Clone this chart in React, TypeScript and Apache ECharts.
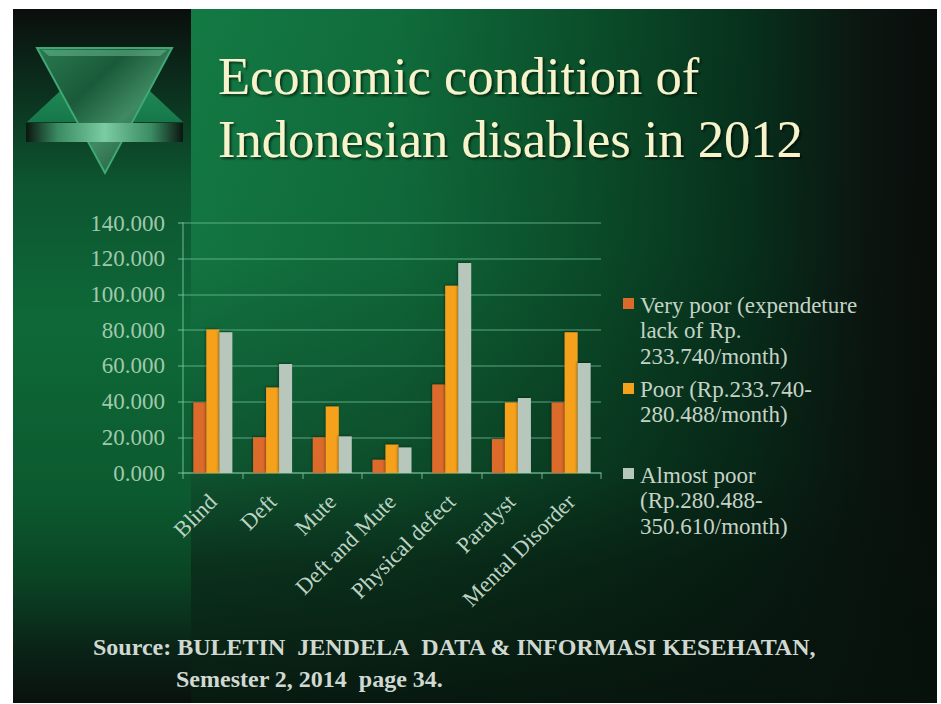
import React, { useEffect, useRef } from "react";
import * as echarts from "echarts";

const categories = ["Blind", "Deft", "Mute", "Deft and Mute", "Physical defect", "Paralyst", "Mental Disorder"];
const veryPoor = [39500, 20000, 20000, 7400, 49500, 19000, 39500];
const poor = [80300, 47900, 37300, 15900, 104900, 39500, 78800];
const almostPoor = [78800, 61000, 20500, 14300, 117600, 42000, 61600];
const seriesNames = [
  "Very poor (expendeture\nlack of Rp.\n233.740/month)",
  "Poor (Rp.233.740-\n280.488/month)",
  "Almost poor\n(Rp.280.488-\n350.610/month)",
];
const yTickLabels = ["0.000", "20.000", "40.000", "60.000", "80.000", "100.000", "120.000", "140.000"];
const titleLines = ["Economic condition of", "Indonesian disables in 2012"];
const sourceLines = [
  "Source: BULETIN\u00a0\u00a0JENDELA\u00a0\u00a0DATA & INFORMASI KESEHATAN,",
  "Semester 2, 2014\u00a0\u00a0page 34.",
];

const SERIF = "Liberation Serif, Times New Roman, serif";
const colors = ["#dc6a2b", "#f6a11c", "#b8c7bc"];

export default function App() {
  const ref = useRef<HTMLDivElement>(null);
  useEffect(() => {
    if (!ref.current) return;
    const chart = echarts.init(ref.current, null, { renderer: "svg" });
    const seriesData = [veryPoor, poor, almostPoor];
    const legendFirstLine = [305, 389, 475];
    const markerTop = [298, 383, 468];

    const legendGraphics: any[] = [];
    seriesNames.forEach((name, i) => {
      legendGraphics.push({
        type: "rect",
        z: 100,
        shape: { x: 623, y: markerTop[i], width: 11, height: 11 },
        style: { fill: colors[i] },
      });
      name.split("\n").forEach((line, j) => {
        legendGraphics.push({
          type: "text",
          z: 100,
          style: {
            x: 640,
            y: legendFirstLine[i] + j * 25.5,
            text: line,
            fontFamily: SERIF,
            fontSize: 23,
            fill: "#c4d3c6",
            verticalAlign: "middle",
            align: "left",
          },
        });
      });
    });

    const option: any = {
      animation: false,
      backgroundColor: "#ffffff",
      title: {
        text: titleLines.join("\n"),
        left: 218,
        top: 44,
        padding: 0,
        textStyle: {
          fontFamily: SERIF,
          fontSize: 52.5,
          fontWeight: "normal",
          color: "#f7f3cb",
          lineHeight: 63,
          textShadowColor: "rgba(0,0,0,0.55)",
          textShadowOffsetX: 2,
          textShadowOffsetY: 2,
          textShadowBlur: 2,
        },
      },
      grid: { left: 183, top: 223, width: 418, height: 250, containLabel: false },
      xAxis: {
        type: "category",
        data: categories,
        axisLine: { show: true, lineStyle: { color: "rgba(110,180,140,0.45)", width: 2 } },
        axisTick: { show: true, alignWithLabel: false, length: 6, lineStyle: { color: "rgba(110,180,140,0.5)", width: 2 } },
        axisLabel: {
          interval: 0,
          rotate: 45,
          margin: 25,
          fontFamily: SERIF,
          fontSize: 22.5,
          color: "#bdd3c3",
        },
        splitLine: { show: false },
      },
      yAxis: {
        type: "value",
        min: 0,
        max: 140000,
        interval: 20000,
        axisLine: { show: true, lineStyle: { color: "rgba(120,200,160,0.45)", width: 2 } },
        axisTick: { show: true, length: 5, lineStyle: { color: "rgba(120,200,160,0.45)", width: 2 } },
        axisLabel: {
          margin: 18,
          fontFamily: SERIF,
          fontSize: 23,
          color: "#a0c9ab",
          formatter: (v: number) => yTickLabels[Math.round(v / 20000)] ?? "",
        },
        splitLine: { show: true, lineStyle: { color: "rgba(115,195,155,0.38)", width: 2 } },
      },
      series: seriesData.map((d, i) => ({
        type: "bar",
        name: seriesNames[i],
        data: d,
        barWidth: 13,
        barGap: "0%",
        itemStyle: {
          color: colors[i],
          shadowColor: "rgba(0,0,0,0.35)",
          shadowBlur: 2,
          shadowOffsetX: -1,
          shadowOffsetY: -1,
        },
      })),
      graphic: [
        {
          type: "rect",
          z: -100,
          shape: { x: 13, y: 9, width: 178, height: 694 },
          style: {
            fill: new echarts.graphic.LinearGradient(0, 0, 0, 1, [
              { offset: 0, color: "#0a0e0c" },
              { offset: 0.08, color: "#0b2619" },
              { offset: 0.25, color: "#0d5530" },
              { offset: 0.45, color: "#0e6938" },
              { offset: 0.7, color: "#0c5a2f" },
              { offset: 0.82, color: "#0a4424" },
              { offset: 0.92, color: "#0a2417" },
              { offset: 1, color: "#0a110e" },
            ]),
          },
        },
        {
          type: "rect",
          z: -100,
          shape: { x: 191, y: 9, width: 746, height: 694 },
          style: {
            fill: new echarts.graphic.LinearGradient(0, 0, 1, 0, [
              { offset: 0, color: "#137a44" },
              { offset: 0.28, color: "#106c3b" },
              { offset: 0.55, color: "#0a4c29" },
              { offset: 0.75, color: "#07301c" },
              { offset: 0.9, color: "#0b1611" },
              { offset: 1, color: "#0a0d0b" },
            ]),
          },
        },
        {
          type: "rect",
          z: -99,
          shape: { x: 191, y: 9, width: 746, height: 694 },
          style: {
            fill: new echarts.graphic.LinearGradient(0, 0, 0, 1, [
              { offset: 0, color: "rgba(7,18,12,0)" },
              { offset: 0.35, color: "rgba(7,18,12,0.05)" },
              { offset: 0.66, color: "rgba(7,18,12,0.35)" },
              { offset: 0.8, color: "rgba(7,18,12,0.7)" },
              { offset: 1, color: "rgba(7,18,12,0.92)" },
            ]),
          },
        },
        {
          type: "polygon",
          z: -90,
          shape: { points: [[105, 49], [183, 122], [27, 122]] },
          style: {
            fill: new echarts.graphic.LinearGradient(0, 0, 0, 1, [
              { offset: 0, color: "#2a9a60" },
              { offset: 1, color: "#16784a" },
            ]),
          },
        },
        {
          type: "polygon",
          z: -89,
          shape: { points: [[37, 48], [172, 48], [105, 173]] },
          style: {
            fill: new echarts.graphic.LinearGradient(0, 0, 1, 1, [
              { offset: 0, color: "#2a7a50" },
              { offset: 0.35, color: "#1a5a3a" },
              { offset: 0.6, color: "#3f8a62" },
              { offset: 1, color: "#143e28" },
            ]),
            stroke: "#3fa874",
            lineWidth: 2,
          },
        },
        {
          type: "polygon",
          z: -88,
          shape: { points: [[42, 50], [167, 50], [160, 56], [49, 56]] },
          style: { fill: "rgba(120,200,160,0.45)" },
        },
        {
          type: "rect",
          z: -87,
          shape: { x: 26, y: 123, width: 157, height: 19 },
          style: {
            fill: new echarts.graphic.LinearGradient(0, 0, 1, 0, [
              { offset: 0, color: "#0a160f" },
              { offset: 0.2, color: "#3a8a62" },
              { offset: 0.5, color: "#7ccca2" },
              { offset: 0.8, color: "#3a8a62" },
              { offset: 1, color: "#0a160f" },
            ]),
          },
        },
        {
          type: "text",
          z: 100,
          style: {
            x: 93,
            y: 647,
            text: sourceLines[0],
            fontFamily: SERIF,
            fontSize: 24,
            fontWeight: "bold",
            fill: "#d0d9d1",
            verticalAlign: "middle",
          },
        },
        {
          type: "text",
          z: 100,
          style: {
            x: 176,
            y: 679,
            text: sourceLines[1],
            fontFamily: SERIF,
            fontSize: 24,
            fontWeight: "bold",
            fill: "#d0d9d1",
            verticalAlign: "middle",
          },
        },
        ...legendGraphics,
      ],
    };
    chart.setOption(option);
    return () => chart.dispose();
  }, []);
  return <div ref={ref} style={{ position: "fixed", left: 0, top: 0, width: 941, height: 704 }} />;
}
